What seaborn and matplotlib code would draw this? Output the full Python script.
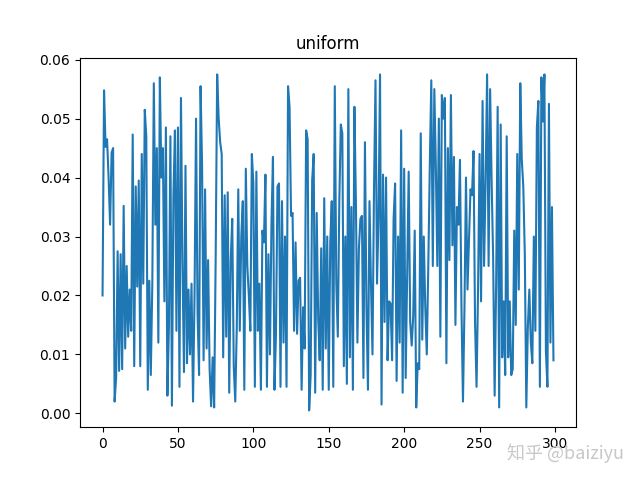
import numpy as np
import matplotlib
matplotlib.use("Agg")
import matplotlib.pyplot as plt
import seaborn as sns

# values, 10 per row
rows = [
    [.0200, .0548, .0452, .0465, .0400, .0320, .0442, .0450, .0020, .0060],
    [.0275, .0072, .0270, .0075, .0352, .0110, .0250, .0130, .0210, .0140],
    [.0473, .0080, .0385, .0215, .0395, .0080, .0440, .0220, .0515, .0470],
    [.0040, .0225, .0065, .0220, .0560, .0320, .0450, .0120, .0570, .0400],
    [.0450, .0190, .0485, .0030, .0145, .0470, .0013, .0370, .0480, .0140],
    [.0485, .0045, .0535, .0255, .0070, .0420, .0085, .0210, .0100, .0220],
    [.0020, .0200, .0500, .0170, .0065, .0555, .0420, .0090, .0380, .0110],
    [.0260, .0075, .0012, .0095, .0010, .0260, .0575, .0500, .0460, .0440],
    [.0095, .0370, .0130, .0375, .0035, .0260, .0330, .0080, .0020, .0145],
    [.0380, .0140, .0300, .0360, .0040, .0415, .0250, .0200, .0140, .0440],
    [.0390, .0045, .0410, .0140, .0220, .0040, .0310, .0290, .0405, .0045],
    [.0270, .0100, .0320, .0435, .0040, .0135, .0385, .0390, .0045, .0360],
    [.0120, .0300, .0045, .0555, .0520, .0335, .0340, .0140, .0290, .0135],
    [.0225, .0230, .0040, .0180, .0110, .0480, .0465, .0005, .0065, .0395],
    [.0440, .0035, .0340, .0160, .0090, .0280, .0040, .0365, .0110, .0300],
    [.0040, .0290, .0360, .0045, .0555, .0220, .0130, .0360, .0490, .0475],
    [.0080, .0300, .0050, .0550, .0095, .0350, .0040, .0520, .0360, .0120],
    [.0280, .0330, .0335, .0060, .0460, .0180, .0040, .0360, .0220, .0100],
    [.0380, .0565, .0220, .0330, .0575, .0015, .0405, .0155, .0400, .0090],
    [.0190, .0186, .0090, .0330, .0390, .0055, .0300, .0120, .0480, .0035],
    [.0415, .0060, .0240, .0410, .0155, .0115, .0165, .0310, .0010, .0085],
    [.0075, .0475, .0125, .0300, .0180, .0100, .0250, .0420, .0565, .0250],
    [.0550, .0420, .0250, .0500, .0130, .0540, .0500, .0535, .0085, .0450],
    [.0260, .0540, .0285, .0435, .0150, .0350, .0320, .0430, .0180, .0020],
    [.0180, .0400, .0210, .0295, .0380, .0370, .0445, .0155, .0045, .0210],
    [.0440, .0190, .0530, .0250, .0395, .0575, .0250, .0550, .0395, .0265],
    [.0030, .0220, .0520, .0010, .0490, .0095, .0190, .0065, .0470, .0095],
    [.0190, .0065, .0075, .0310, .0150, .0440, .0210, .0560, .0430, .0385],
    [.0270, .0010, .0145, .0210, .0120, .0085, .0300, .0140, .0485, .0530],
    [.0045, .0570, .0495, .0575, .0105, .0045, .0525, .0120, .0350, .0090],
]
values = [v for r in rows for v in r]
steps = list(range(len(values)))

fig, ax = plt.subplots(figsize=(6.4, 4.8), dpi=100)
sns.lineplot(x=steps, y=values, ax=ax, color="#1f77b4", linewidth=1.5)
ax.set_title("uniform")
ax.set_xlabel("")
ax.set_ylabel("")

# watermark
fig.text(0.975, 0.055, "知乎 @baiziyu", ha="right", va="center", fontsize=13,
         color="#c8c8c8", family=["Noto Sans CJK SC", "DejaVu Sans"])

fig.savefig("out.png", dpi=100)
